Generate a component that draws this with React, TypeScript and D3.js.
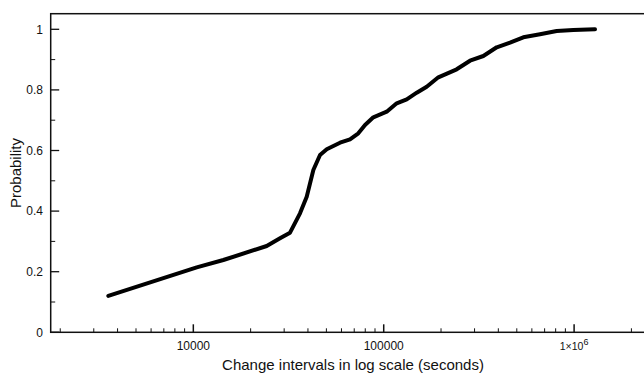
import React from "react";
import * as d3 from "d3";

// Change interval (seconds)
const intervals = [
  3577, 10420, 14380, 24290, 28530, 32200, 36340, 39410, 42700, 46290, 50200,
  58960, 66530, 73560, 79780, 88190, 103700, 117000, 132100, 149100, 168200,
  193600, 241700, 284000, 333600, 392300, 460700, 541000, 662100, 810100,
  990400, 1288000,
];
// Cumulative probability
const probability = [
  0.12, 0.2145, 0.2386, 0.2848, 0.3102, 0.3287, 0.3927, 0.4475, 0.5356, 0.5851,
  0.604, 0.6257, 0.637, 0.6568, 0.6842, 0.7096, 0.728, 0.7558, 0.769, 0.7908,
  0.8106, 0.8416, 0.868, 0.8964, 0.9119, 0.9406, 0.9558, 0.9736, 0.9835,
  0.9944, 0.998, 1.0,
];

const xMajorTicks = [10000, 100000, 1000000];
const xTickLabels = ["10000", "100000", "1×10|6"];
const yMajorTicks = [0, 0.2, 0.4, 0.6, 0.8, 1];
const yTickLabels = ["0", "0.2", "0.4", "0.6", "0.8", "1"];
const xDomain = [1782, 2660000];
const yDomain = [0, 1.0515];

const xTitle = "Change intervals in log scale (seconds)";
const yTitle = "Probability";

const W = 644;
const H = 373;
const left = 50.7;
const right = 655;
const top = 13.7;
const bottom = 332.3;
const FONT = "'Liberation Sans', Arial, Helvetica, sans-serif";

export default function App() {
  const x = d3.scaleLog().domain(xDomain).range([left, right]);
  const y = d3.scaleLinear().domain(yDomain).range([bottom, top]);

  const pts = intervals.map((v, i) => [v, probability[i]] as [number, number]);
  const line = d3
    .line<[number, number]>()
    .x((d) => x(d[0]))
    .y((d) => y(d[1]))
    .curve(d3.curveLinear);

  const xMinor = x
    .ticks()
    .filter((t) => t >= xDomain[0] && t <= xDomain[1] && !xMajorTicks.includes(t));
  const yMinor = d3.range(1, 11, 2).map((k) => k / 10);

  return (
    <svg
      width={W}
      height={H}
      style={{ position: "absolute", left: 0, top: 0, background: "#fff", overflow: "hidden" }}
      fontFamily={FONT}
    >
      <rect x={0} y={0} width={W} height={H} fill="#fff" />
      {/* frame */}
      <rect
        x={left}
        y={top}
        width={right - left}
        height={bottom - top}
        fill="none"
        stroke="#111"
        strokeWidth={1.5}
      />
      {/* y ticks */}
      {yMajorTicks.map((t) => (
        <line key={"ym" + t} x1={left} x2={left + 8.5} y1={y(t)} y2={y(t)} stroke="#111" strokeWidth={1.3} />
      ))}
      {yMinor.map((t) => (
        <line key={"yn" + t} x1={left} x2={left + 4.5} y1={y(t)} y2={y(t)} stroke="#111" strokeWidth={1} />
      ))}
      {yMajorTicks.map((t, i) => (
        <text key={"yl" + t} x={43} y={y(t)} dy="0.35em" textAnchor="end" fontSize={12} fill="#111">
          {yTickLabels[i]}
        </text>
      ))}
      {/* x ticks */}
      {xMajorTicks.map((t) => (
        <line key={"xm" + t} x1={x(t)} x2={x(t)} y1={bottom} y2={bottom - 8} stroke="#111" strokeWidth={1.5} />
      ))}
      {xMinor.map((t) => (
        <line key={"xn" + t} x1={x(t)} x2={x(t)} y1={bottom} y2={bottom - 4} stroke="#111" strokeWidth={1} />
      ))}
      {xMajorTicks.map((t, i) => {
        const [base, sup] = xTickLabels[i].split("|");
        return (
          <text key={"xl" + t} x={x(t)} y={349.5} textAnchor="middle" fontSize={12} fill="#111">
            {sup ? (
              <>
                <tspan fontSize={10.5}>{base}</tspan>
                <tspan fontSize={9} dy={-5}>{sup}</tspan>
              </>
            ) : (
              base
            )}
          </text>
        );
      })}
      {/* curve */}
      <path
        d={line(pts) || ""}
        fill="none"
        stroke="#000"
        strokeWidth={4}
        strokeLinejoin="round"
        strokeLinecap="round"
      />
      {/* titles */}
      <text x={353} y={369.5} textAnchor="middle" fontSize={15} fill="#111">
        {xTitle}
      </text>
      <text
        transform={`translate(20.5,${(top + bottom) / 2}) rotate(-90)`}
        textAnchor="middle"
        fontSize={15}
        fill="#111"
      >
        {yTitle}
      </text>
    </svg>
  );
}
